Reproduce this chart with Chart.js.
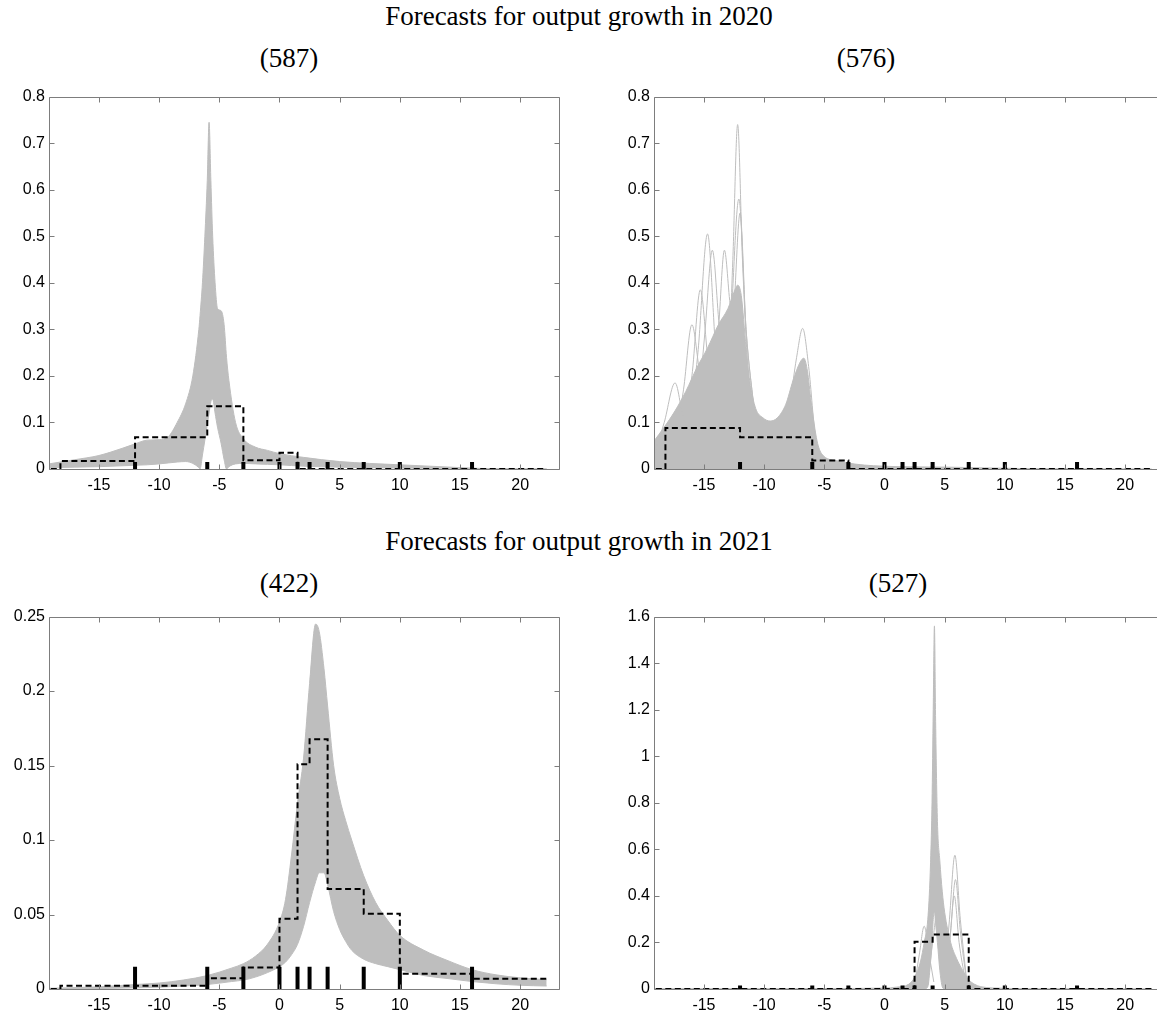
<!DOCTYPE html>
<html>
<head>
<meta charset="utf-8">
<title>Forecasts for output growth</title>
<script src="https://cdn.jsdelivr.net/npm/chart.js@4.4.1/dist/chart.umd.min.js"></script>
<style>
    html, body { margin: 0; padding: 0; background: #fff; overflow: hidden; }
    body { width: 1157px; height: 1017px; position: relative; }
    .title {
        position: absolute; transform: translate(-50%, -50%);
        font-family: 'Liberation Serif', 'Times New Roman', serif; font-size: 27px;
        line-height: 1; color: #000; white-space: nowrap;
    }
    .panel { position: absolute; width: 565px; height: 422px; }
</style>
</head>
<body>
<div class="title" style="left:579px;top:16px">Forecasts for output growth in 2020</div>
<div class="title" style="left:289px;top:58px">(587)</div>
<div class="title" style="left:866px;top:58px">(576)</div>
<div class="title" style="left:579px;top:541px">Forecasts for output growth in 2021</div>
<div class="title" style="left:289px;top:583px">(422)</div>
<div class="title" style="left:898px;top:583px">(527)</div>

<div class="panel" style="left:0;top:83px"><canvas id="c587" width="565" height="422"></canvas></div>
<div class="panel" style="left:605px;top:83px"><canvas id="c576" width="565" height="422"></canvas></div>
<div class="panel" style="left:0;top:603px"><canvas id="c422" width="565" height="422"></canvas></div>
<div class="panel" style="left:605px;top:603px"><canvas id="c527" width="565" height="422"></canvas></div>

<script>
// axis setup shared by all four panels
const xMin = -19.15, xMax = 23.2;
const xTicks = [-15, -10, -5, 0, 5, 10, 15, 20];

// histogram bins (dashed step line) and bin-edge markers
const histStart = -19;
const histEdges = [-18.2, -12, -6, -3, 0, 1.5, 2.5, 4, 7, 10, 16, 22.2];
const markEdges = [-12, -6, -3, 0, 1.5, 2.5, 4, 7, 10, 16];
const markHeight = 0.015;

// 2020, (587)
const hist587 = [0.017, 0.068, 0.135, 0.019, 0.035, 0, 0, 0, 0, 0, 0];
const band587X = [-19.15, -17, -15, -13, -12, -11, -10, -9.25, -8.5, -7.8, -7.2, -6.7, -6.6, -6.4, -6.2, -6.0, -5.85, -5.7, -5.55, -5.35, -5.15, -4.85, -4.6, -4.4, -4.2, -3.65, -3, -2, -1, 0, 2, 5, 10, 15, 17, 22.2];
const band587Hi = [0.011, 0.02, 0.029, 0.045, 0.054, 0.062, 0.063, 0.069, 0.1, 0.14, 0.2, 0.3, 0.33, 0.4, 0.5, 0.62, 0.745, 0.62, 0.5, 0.4, 0.345, 0.34, 0.31, 0.24, 0.19, 0.1, 0.065, 0.047, 0.04, 0.033, 0.025, 0.016, 0.009, 0.003, 0.001, 0];
const band587Lo = [0.003, 0.004, 0.005, 0.007, 0.008, 0.009, 0.011, 0.013, 0.015, 0.016, 0.012, 0.003, 0, 0.03, 0.062, 0.095, 0.12, 0.145, 0.15, 0.12, 0.09, 0.055, 0.02, 0, 0.005, 0.011, 0.012, 0.011, 0.01, 0.009, 0.006, 0.004, 0.002, 0.0005, 0, 0];

// 2020, (576)
const hist576 = [0.088, 0.068, 0.018, 0, 0, 0, 0, 0, 0, 0, 0];
const band576X = [-19.15, -18.3, -17.4, -16.5, -15.6, -14.7, -13.8, -13, -12.5, -12.2, -11.9, -11.5, -11.2, -10.7, -10.1, -9.5, -8.9, -8.2, -7.6, -7.0, -6.7, -6.4, -6.1, -5.6, -5.2, -4, -0.9, 5.2, 11.4, 16, 22.2];
const band576Hi = [0.06, 0.09, 0.125, 0.167, 0.217, 0.26, 0.31, 0.345, 0.38, 0.395, 0.373, 0.26, 0.19, 0.13, 0.11, 0.103, 0.11, 0.139, 0.19, 0.23, 0.238, 0.21, 0.146, 0.06, 0.032, 0.018, 0.007, 0.004, 0.001, 0.0003, 0];
// individual outlying densities that stick out of the band
const curves576 = [
    [[-14, -13, -12.6, -12.2, -11.8, -11.3, -10.5, -9.5], [0.08, 0.2, 0.45, 0.74, 0.45, 0.2, 0.1, 0.07]],
    [[-13.5, -12.8, -12.1, -11.5, -10.8], [0.12, 0.3, 0.58, 0.3, 0.12]],
    [[-13.2, -12.5, -12, -11.5, -10.8], [0.15, 0.35, 0.55, 0.3, 0.12]],
    [[-16.3, -15.5, -14.7, -14, -13.2], [0.08, 0.25, 0.505, 0.25, 0.12]],
    [[-15.5, -14.9, -14.3, -13.7, -13], [0.12, 0.3, 0.47, 0.3, 0.2]],
    [[-14.5, -13.8, -13.3, -12.8, -12], [0.15, 0.3, 0.47, 0.35, 0.3]],
    [[-17, -16, -15.3, -14.6, -13.8], [0.06, 0.2, 0.385, 0.22, 0.15]],
    [[-17.5, -16.7, -16, -15.3, -14.5], [0.05, 0.17, 0.31, 0.2, 0.15]],
    [[-19.15, -18.3, -17.4, -16.6, -15.8], [0.03, 0.1, 0.185, 0.1, 0.09]],
    [[-9, -8, -7.3, -6.8, -6.3, -5.7, -5], [0.06, 0.12, 0.24, 0.302, 0.22, 0.06, 0.02]]
];

// 2021, (422)
const hist422 = [0.0022, 0.0022, 0.0073, 0.0144, 0.0472, 0.1508, 0.1676, 0.0672, 0.0506, 0.0102, 0.0069];
const band422X = [-19.15, -18, -15, -12, -10, -8, -6, -4, -3, -2, -1, 0, 0.5, 1, 1.5, 2, 2.5, 3, 3.3, 3.7, 4, 4.5, 5, 5.5, 6, 7, 8, 9, 10, 12, 14, 16, 18, 20, 22.2];
const band422Hi = [0.0005, 0.0007, 0.0015, 0.003, 0.004, 0.006, 0.009, 0.014, 0.017, 0.022, 0.03, 0.045, 0.06, 0.09, 0.125, 0.155, 0.205, 0.245, 0.24, 0.215, 0.19, 0.15, 0.128, 0.113, 0.1, 0.076, 0.058, 0.046, 0.036, 0.026, 0.019, 0.013, 0.0095, 0.0075, 0.0062];
const band422Lo = [0, 0, 0.0003, 0.0008, 0.0012, 0.002, 0.003, 0.005, 0.006, 0.008, 0.011, 0.015, 0.018, 0.023, 0.03, 0.042, 0.058, 0.072, 0.078, 0.078, 0.07, 0.052, 0.04, 0.032, 0.026, 0.02, 0.017, 0.015, 0.013, 0.009, 0.007, 0.005, 0.0035, 0.0025, 0.002];

// 2021, (527)
const hist527 = [0, 0, 0, 0, 0, 0, 0.203, 0.234, 0, 0, 0];
const band527X = [-19.15, -10, -5, 0, 1, 2, 2.5, 3, 3.3, 3.6, 3.8, 3.95, 4.05, 4.15, 4.25, 4.4, 4.6, 4.8, 5.0, 5.5, 6.0, 6.5, 7, 7.5, 8, 10, 12, 22.2];
const band527Hi = [0.001, 0.001, 0.002, 0.004, 0.008, 0.02, 0.05, 0.12, 0.2, 0.3, 0.5, 0.8, 1.2, 1.56, 1.15, 0.72, 0.55, 0.42, 0.33, 0.2, 0.13, 0.08, 0.04, 0.02, 0.01, 0.003, 0.001, 0];
const band527Lo = [0, 0, 0, 0, 0, 0, 0, 0, 0, 0.01, 0.1, 0.2, 0.3, 0.33, 0.28, 0.2, 0.08, 0.01, 0, 0, 0, 0, 0, 0, 0, 0, 0, 0];
const curves527 = [
    [[5.0, 5.4, 5.85, 6.3, 6.8], [0.05, 0.3, 0.575, 0.3, 0.05]],
    [[5.1, 5.5, 5.9, 6.3, 6.8], [0.05, 0.25, 0.47, 0.25, 0.04]],
    [[5.1, 5.45, 5.8, 6.2, 6.7], [0.04, 0.22, 0.4, 0.2, 0.04]],
    [[2.5, 2.9, 3.3, 3.7, 4.1], [0.02, 0.15, 0.27, 0.15, 0.03]],
    [[3.6, 4.0, 4.4, 4.8, 5.2], [0.02, 0.2, 0.33, 0.15, 0.03]]
];

const GREY = '#bebebe';
const FRAME = '#7d7d7d';

Chart.defaults.font.family = "'Liberation Sans', Arial, sans-serif";
Chart.defaults.font.size = 16;
Chart.defaults.color = '#000';

const toPts = (xs, ys) => xs.map((x, i) => ({ x: x, y: ys[i] }));

function stepPoints(heights) {
    const pts = [{ x: histStart, y: 0 }, { x: histEdges[0], y: 0 }];
    heights.forEach((h, i) => {
        pts.push({ x: histEdges[i], y: h }, { x: histEdges[i + 1], y: h });
    });
    return pts;
}

function markPoints() {
    const pts = [];
    markEdges.forEach(e => {
        pts.push({ x: e, y: 0 }, { x: e, y: markHeight }, { x: e, y: null });
    });
    return pts;
}

// box with inward ticks on all four sides, like the original figure
const framePlugin = {
    id: 'frame',
    afterDatasetsDraw(chart) {
        const { ctx, chartArea: a, scales: { x, y } } = chart;
        const L = Math.round(a.left) + 0.5, R = Math.round(a.right) + 0.5;
        const T = Math.round(a.top) + 0.5, B = Math.round(a.bottom) + 0.5;
        ctx.save();
        ctx.strokeStyle = FRAME;
        ctx.lineWidth = 1;
        ctx.beginPath();
        x.ticks.forEach(t => {
            const px = Math.round(x.getPixelForValue(t.value)) + 0.5;
            ctx.moveTo(px, B); ctx.lineTo(px, B - 5);
            ctx.moveTo(px, T); ctx.lineTo(px, T + 5);
        });
        y.ticks.forEach(t => {
            const py = Math.round(y.getPixelForValue(t.value)) + 0.5;
            ctx.moveTo(L, py); ctx.lineTo(L + 5, py);
            ctx.moveTo(R, py); ctx.lineTo(R - 5, py);
        });
        ctx.rect(L, T, R - L, B - T);
        ctx.stroke();
        ctx.restore();
    }
};

function makePanel(id, p) {
    const datasets = [
        {
            data: markPoints(), borderColor: '#000', borderWidth: 4,
            borderCapStyle: 'butt', pointRadius: 0, spanGaps: false
        },
        {
            data: stepPoints(p.hist), borderColor: '#000', borderWidth: 2,
            borderDash: [6, 3.5], pointRadius: 0
        }
    ];
    (p.curves || []).forEach(c => {
        datasets.push({
            data: toPts(c[0], c[1]), borderColor: GREY, borderWidth: 1,
            pointRadius: 0, cubicInterpolationMode: 'monotone'
        });
    });
    datasets.push({
        data: toPts(p.bandX, p.bandHi), borderColor: GREY, borderWidth: 1,
        backgroundColor: GREY, fill: p.bandLo ? '+1' : 'origin',
        pointRadius: 0, cubicInterpolationMode: 'monotone'
    });
    if (p.bandLo) {
        datasets.push({
            data: toPts(p.bandX, p.bandLo), borderColor: GREY, borderWidth: 1,
            pointRadius: 0, cubicInterpolationMode: 'monotone'
        });
    }

    return new Chart(document.getElementById(id), {
        type: 'line',
        data: { datasets },
        options: {
            responsive: false, animation: false, devicePixelRatio: 1,
            layout: { padding: { top: 10, right: 6.3, left: 0, bottom: 0 } },
            plugins: { legend: { display: false }, tooltip: { enabled: false } },
            scales: {
                x: {
                    type: 'linear', min: xMin, max: xMax,
                    grid: { display: false, drawTicks: false }, border: { display: false },
                    afterBuildTicks: s => { s.ticks = xTicks.map(v => ({ value: v })); },
                    afterFit: s => { s.height = 36; },
                    ticks: { padding: 7, maxRotation: 0, autoSkip: false, callback: v => String(v) }
                },
                y: {
                    min: 0, max: p.yMax,
                    grid: { display: false, drawTicks: false }, border: { display: false },
                    afterFit: s => { s.width = 49; },
                    ticks: { stepSize: p.yStep, padding: 4, callback: v => String(+v.toFixed(2)) }
                }
            }
        },
        plugins: [framePlugin]
    });
}

makePanel('c587', { yMax: 0.8, yStep: 0.1, hist: hist587, bandX: band587X, bandHi: band587Hi, bandLo: band587Lo });
makePanel('c576', { yMax: 0.8, yStep: 0.1, hist: hist576, bandX: band576X, bandHi: band576Hi, curves: curves576 });
makePanel('c422', { yMax: 0.25, yStep: 0.05, hist: hist422, bandX: band422X, bandHi: band422Hi, bandLo: band422Lo });
makePanel('c527', { yMax: 1.6, yStep: 0.2, hist: hist527, bandX: band527X, bandHi: band527Hi, bandLo: band527Lo, curves: curves527 });
</script>
</body>
</html>
